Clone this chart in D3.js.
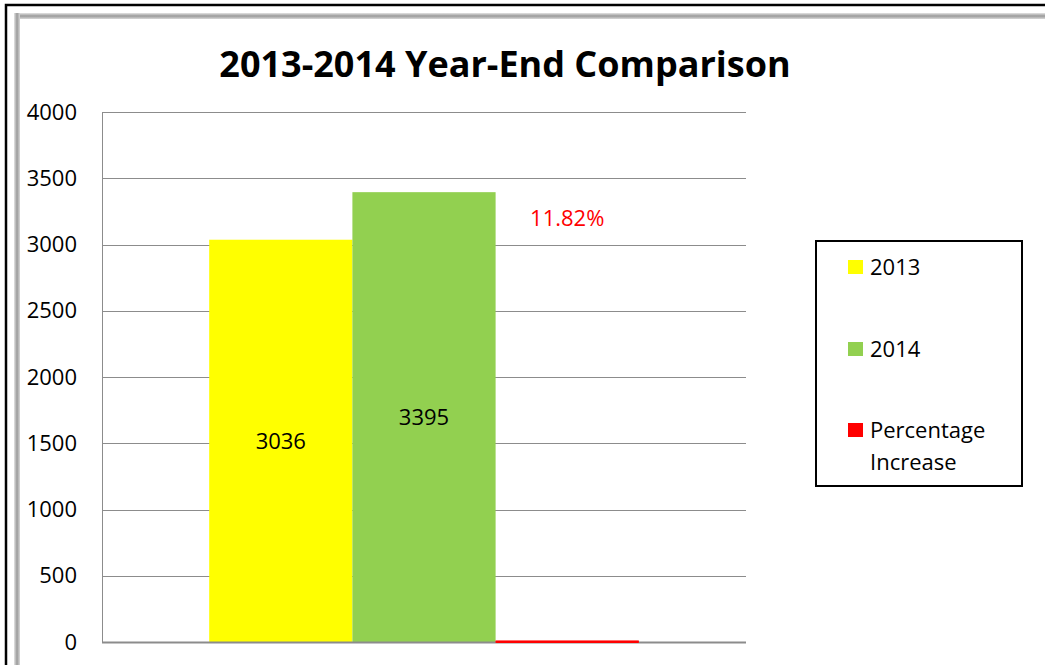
<!DOCTYPE html>
<html>
<head>
<meta charset="utf-8">
<script src="https://cdn.jsdelivr.net/npm/d3@7"></script>
<style>
  body { margin: 0; background: #fff; }
  svg { display: block; font-family: "Open Sans", sans-serif; }
</style>
</head>
<body>
<svg id="chart" width="1045" height="665"></svg>
<script>
// chart data
const categories = ["Year-End"];
const seriesNames = ["2013", "2014", "Percentage Increase"];
const seriesValues = [3036, 3395, 11.82];
const valueLabels = ["3036", "3395", "11.82%"];
const seriesColors = ["#ffff00", "#92d050", "#ff0000"];
const yTicks = [0, 500, 1000, 1500, 2000, 2500, 3000, 3500, 4000];

const svg = d3.select("#chart");
const width = 1045, height = 665;

// outer frame
svg.append("rect").attr("x", 6).attr("y", 5).attr("width", 1045).attr("height", 700)
  .attr("fill", "#fff").attr("stroke", "#000").attr("stroke-width", 2.5);

// grey shadow frame
const defs = svg.append("defs");
const gl = defs.append("linearGradient").attr("id", "shl").attr("x1", 0).attr("x2", 1);
gl.append("stop").attr("offset", 0).attr("stop-color", "#e4e4e4");
gl.append("stop").attr("offset", 0.5).attr("stop-color", "#9a9a9a");
gl.append("stop").attr("offset", 1).attr("stop-color", "#d8d8d8");
const gt = defs.append("linearGradient").attr("id", "sht").attr("x1", 0).attr("x2", 0).attr("y1", 0).attr("y2", 1);
gt.append("stop").attr("offset", 0).attr("stop-color", "#e4e4e4");
gt.append("stop").attr("offset", 0.5).attr("stop-color", "#9a9a9a");
gt.append("stop").attr("offset", 1).attr("stop-color", "#d8d8d8");
svg.append("rect").attr("x", 14).attr("y", 13).attr("width", 1040).attr("height", 6).attr("fill", "url(#sht)");
svg.append("rect").attr("x", 14).attr("y", 13).attr("width", 6).attr("height", 660).attr("fill", "url(#shl)");

const margin = { left: 102, right: 299, top: 112, bottom: 23 };
const plotW = width - margin.left - margin.right;
const plotH = height - margin.top - margin.bottom;

const g = svg.append("g").attr("transform", `translate(${margin.left},${margin.top})`);

const x0 = d3.scaleBand().domain(categories).range([0, plotW]).paddingInner(0).paddingOuter(0.2495);
const x1 = d3.scaleBand().domain(seriesNames).range([0, x0.bandwidth()]).padding(0);
const y = d3.scaleLinear().domain([0, 4000]).range([plotH, 0]);

// gridlines
g.selectAll(".grid").data(yTicks.slice(1)).enter().append("line")
  .attr("x1", 0).attr("x2", plotW)
  .attr("y1", d => Math.round(y(d)) + 0.5).attr("y2", d => Math.round(y(d)) + 0.5)
  .attr("stroke", "#8c8c8c").attr("stroke-width", 1);

// y axis
const yAxis = g.append("g").call(d3.axisLeft(y).tickValues(yTicks).tickFormat(d3.format("d")).tickSize(0).tickPadding(25));
yAxis.select(".domain").attr("stroke", "#8c8c8c");
yAxis.selectAll("text").attr("font-size", 22).attr("fill", "#000").attr("font-family", "'Open Sans', sans-serif");

const bars = seriesNames.map((s, i) => ({ cat: categories[0], name: s, value: seriesValues[i], label: valueLabels[i], color: seriesColors[i] }));

g.selectAll(".bar").data(bars).enter().append("rect")
  .attr("x", d => x0(d.cat) + x1(d.name))
  .attr("y", d => y(d.value))
  .attr("width", x1.bandwidth())
  .attr("height", d => Math.max(2, plotH - y(d.value)))
  .attr("fill", d => d.color);

// x axis baseline
g.append("line").attr("x1", 0).attr("x2", plotW).attr("y1", plotH + 0.5).attr("y2", plotH + 0.5)
  .attr("stroke", "#8c8c8c").attr("stroke-width", 2);
// red bar sits over the baseline
g.append("rect").attr("x", x0(categories[0]) + x1(seriesNames[2])).attr("y", plotH - 1)
  .attr("width", x1.bandwidth()).attr("height", 2).attr("fill", seriesColors[2]);

// value labels
const percentLabelY = 3200;
g.selectAll(".vlabel").data(bars).enter().append("text")
  .attr("x", d => x0(d.cat) + x1(d.name) + x1.bandwidth() / 2)
  .attr("y", (d, i) => i < 2 ? (y(d.value) + plotH) / 2 + 8 : y(percentLabelY) + 8)
  .attr("text-anchor", "middle")
  .attr("font-size", 22)
  .attr("fill", (d, i) => i < 2 ? "#000" : "#ff0000")
  .text(d => d.label);

// title
svg.append("text").attr("x", 505).attr("y", 77).attr("text-anchor", "middle")
  .attr("font-size", 36).attr("font-weight", "bold").attr("fill", "#000")
  .text("2013-2014 Year-End Comparison");

// legend
const lg = svg.append("g").attr("transform", "translate(816,241)");
lg.append("rect").attr("width", 206).attr("height", 245).attr("fill", "#fff")
  .attr("stroke", "#000").attr("stroke-width", 2);
const legendY = [26, 108, 189];
seriesNames.forEach((s, i) => {
  const item = lg.append("g").attr("transform", `translate(32,${legendY[i]})`);
  item.append("rect").attr("x", 0).attr("y", -7).attr("width", 15).attr("height", 14).attr("fill", seriesColors[i]);
  const t = item.append("text").attr("x", 22).attr("y", 8).attr("font-size", 22).attr("fill", "#000");
  if (s === "Percentage Increase") {
    t.append("tspan").attr("x", 22).text("Percentage");
    t.append("tspan").attr("x", 22).attr("dy", 32).text("Increase");
  } else {
    t.text(s);
  }
});
</script>
</body>
</html>
